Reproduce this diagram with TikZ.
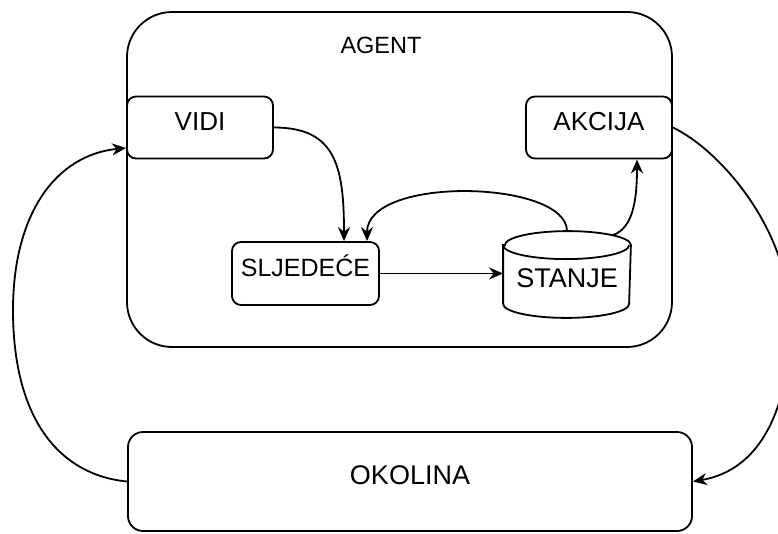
\documentclass[tikz,border=0pt]{standalone}
\usepackage{fontspec}
\setmainfont{Liberation Sans}
\usetikzlibrary{arrows.meta,calc}
\begin{document}
\begin{tikzpicture}[x=1pt,y=-1pt,
  line width=1.8pt,
  lbl/.style={font=\fontsize{26}{30}\selectfont, text height=0.716em, text depth=0.2em, inner sep=0pt},
  box/.style={draw, rounded corners=9pt, inner sep=0pt, lbl},
  arr/.style={-{Stealth[length=14pt,width=12pt,inset=4.5pt]}},
]
\useasboundingbox (0,0) rectangle (778,533);

% agent container
\node[draw, rounded corners=45pt, minimum width=545pt, minimum height=335pt, inner sep=0pt] (agent) at (399.5,179.5) {};
\node[lbl, font=\fontsize{23.5}{28}\selectfont] (agentlbl) at (381,51) {AGENT};

% boxes
\node[box, minimum width=146pt, minimum height=62pt] (vidi) at (200,127.5) {VIDI};
\node[box, minimum width=146pt, minimum height=62pt] (akcija) at (599,127.5) {AKCIJA};
\node[box, font=\fontsize{25}{30}\selectfont, minimum width=147pt, minimum height=63pt] (sljedece) at (305.5,273.5) {SLJEDEĆE};
\node[box, rounded corners=15pt, font=\fontsize{27}{30}\selectfont, minimum width=564pt, minimum height=99pt] (okolina) at (410,481.5) {OKOLINA};

% cylinder STANJE
\node[minimum width=126pt, minimum height=85pt, inner sep=0pt,
      label={[lbl, font=\fontsize{27}{30}\selectfont, yshift=-10pt]center:STANJE}] (stanje) at (567,274.5) {};
\draw ($(stanje.north west)+(0,14)$) -- ($(stanje.south west)+(0,-14)$)
  arc[start angle=180,end angle=360,x radius=63pt,y radius=14pt]
  -- ($(stanje.north east)+(0,14)$)
  arc[start angle=0,end angle=180,x radius=63pt,y radius=14pt] -- cycle;
\draw ($(stanje.north west)+(0,14)$) arc[start angle=180,end angle=360,x radius=63pt,y radius=14pt];

% connectors
\draw[arr] (vidi.east) .. controls (335,127.5) and (344,165) .. ([xshift=38.5pt]sljedece.north);
\draw[arr] (stanje.north) .. controls (567,180) and (367,175) .. ([xshift=61.5pt]sljedece.north);
\draw[arr] ([xshift=46pt,yshift=-4pt]stanje.north) .. controls (633,228) and (637,200) .. ([xshift=38pt]akcija.south);
\draw[arr] (sljedece.east) -- (sljedece.east -| stanje.west);
\draw[arr] (akcija.east) .. controls (720,150) and (790,230) .. (790,320)
  .. controls (790,410) and (760,470) .. (okolina.east);
\draw[arr] (okolina.west) .. controls (60,475) and (13,420) .. (13,310)
  .. controls (13,215) and (55,155) .. ([yshift=-20.5pt]vidi.west);
\end{tikzpicture}
\end{document}
